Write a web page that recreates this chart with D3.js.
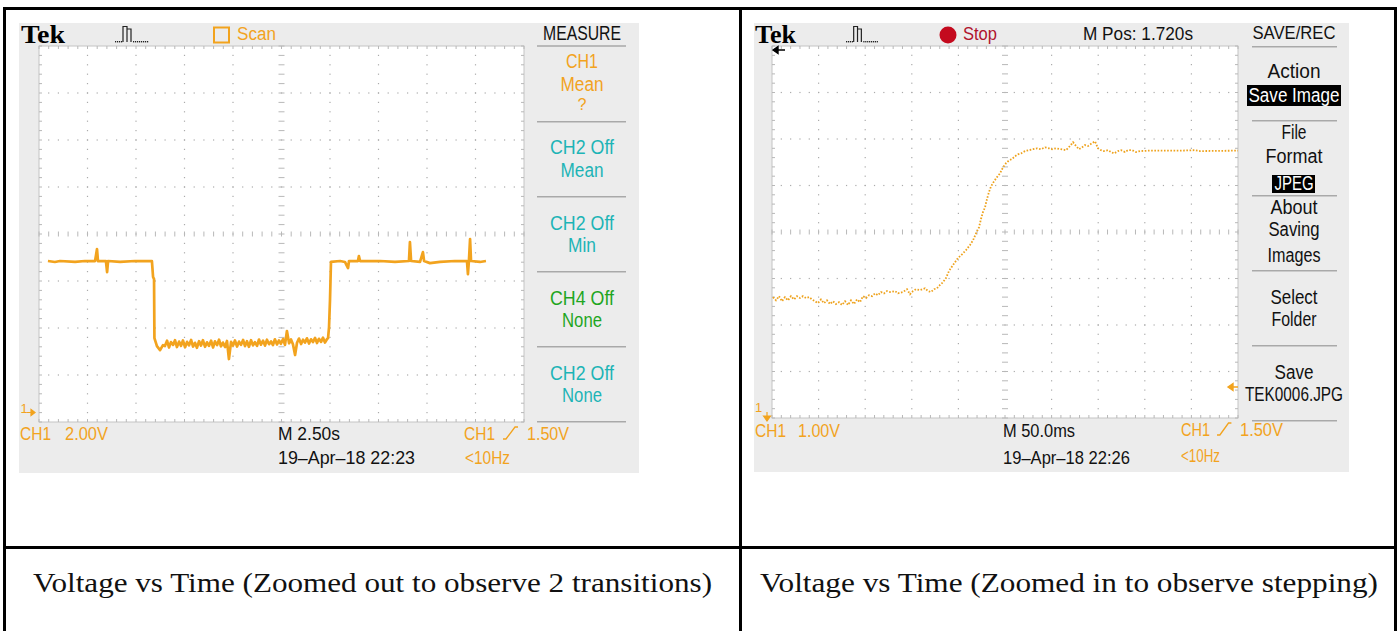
<!DOCTYPE html>
<html><head><meta charset="utf-8">
<script src="https://cdn.jsdelivr.net/npm/d3@7"></script>
<style>html,body{margin:0;padding:0;background:#fff;} svg{display:block;}</style>
</head><body>
<svg id="chart" width="1399" height="631"></svg>
<script>
// ================= DATA =================
// Left capture: CH1, 2.00 V/div, 2.50 s/div  (time in s from left of screen, volts)
const leftTime = [0.46,0.82,1.08,1.86,2.37,2.89,2.99,3.04,3.45,3.51,3.56,4.18,4.95,5.82,5.88,5.93,5.95,6.08,6.24,6.39,
  6.49,6.60,6.70,6.80,6.91,7.01,7.11,7.22,7.32,7.42,7.53,7.63,7.73,7.84,7.94,8.04,8.14,8.25,8.35,8.45,
  8.56,8.66,8.76,8.87,8.97,9.07,9.18,9.28,9.38,9.48,9.59,9.69,9.79,9.90,10.00,10.10,10.21,10.31,10.41,10.52,
  10.62,10.72,10.82,10.93,11.03,11.13,11.24,11.34,11.44,11.55,11.65,11.75,11.86,11.96,12.06,12.16,12.27,12.37,12.47,12.58,
  12.68,12.78,12.89,12.99,13.09,13.20,13.30,13.40,13.51,13.61,13.71,13.81,13.92,14.02,14.12,14.23,14.33,14.43,14.54,14.64,
  14.74,14.85,14.90,14.95,15.00,15.05,
  15.52,15.77,15.93,15.98,16.44,16.49,16.55,17.58,18.35,19.07,19.12,19.18,19.64,19.79,19.85,20.15,20.67,21.44,22.06,22.11,
  22.16,22.22,22.27,22.73,23.04];
const leftVolts = [6.47,6.43,6.47,6.43,6.47,6.47,6.98,6.47,6.47,6.00,6.47,6.43,6.47,6.47,5.79,5.70,3.19,2.85,2.68,2.89,
  2.85,3.08,2.79,3.02,2.90,3.10,2.81,3.04,2.86,3.09,2.80,3.03,2.88,3.11,2.83,2.99,2.78,3.06,2.87,3.10,
  2.82,3.01,2.86,3.08,2.79,3.05,2.89,3.12,2.84,3.00,2.81,3.07,2.30,3.03,2.87,3.09,2.83,3.04,2.90,3.11,
  2.85,3.06,2.82,3.10,2.88,3.02,2.86,3.13,2.91,3.08,2.87,3.12,2.93,3.05,2.89,3.14,2.92,3.09,2.95,3.15,
  2.90,3.49,2.97,3.13,2.93,2.47,2.99,3.17,2.94,3.12,3.00,3.18,2.96,3.14,3.02,3.20,2.98,3.16,3.03,3.21,
  3.00,3.15,3.19,3.66,4.81,6.43,
  6.47,6.43,6.17,6.47,6.47,6.68,6.47,6.47,6.43,6.47,7.28,6.47,6.43,6.85,6.47,6.38,6.43,6.47,6.47,5.91,
  6.47,7.40,6.47,6.43,6.47];

// Right capture: CH1, 1.00 V/div, 50.0 ms/div (time in ms from left of screen, volts)
const rightTime = [1.07,4.29,7.51,10.73,13.95,17.17,20.39,23.61,26.82,30.04,33.26,36.48,39.70,42.92,46.14,49.36,52.58,55.79,59.01,62.23,
  65.45,68.67,71.89,75.11,78.33,81.55,84.76,87.98,91.20,94.42,97.64,100.86,104.08,107.30,110.52,113.73,116.95,120.17,123.39,126.61,
  131.97,135.19,140.56,144.85,148.07,151.29,154.51,158.80,164.16,167.38,170.60,173.82,177.04,180.26,183.48,186.70,189.91,193.13,196.35,199.57,
  203.86,208.15,212.45,215.67,218.88,222.10,224.25,226.39,228.54,230.69,232.83,234.98,238.20,241.42,244.64,247.85,251.07,254.29,257.51,260.73,
  263.95,267.17,271.46,275.75,280.04,284.33,288.63,292.92,297.21,300.43,304.72,
  315.45,319.74,322.96,326.18,329.40,332.62,335.84,339.06,343.35,346.57,349.79,353.00,356.22,360.52,363.73,366.95,371.24,374.46,378.76,381.97,
  386.27,390.56,394.85,405.58,437.77,453.86,459.23,500];
const rightVolts = [3.40,3.33,3.42,3.31,3.40,3.33,3.42,3.35,3.42,3.38,3.42,3.38,3.40,3.35,3.31,3.27,3.35,3.27,3.33,3.25,
  3.31,3.25,3.29,3.23,3.31,3.23,3.33,3.25,3.35,3.29,3.42,3.38,3.44,3.42,3.48,3.44,3.51,3.48,3.53,3.51,
  3.53,3.48,3.51,3.57,3.46,3.53,3.57,3.55,3.59,3.53,3.51,3.57,3.59,3.66,3.72,3.81,3.96,4.06,4.15,4.24,
  4.32,4.41,4.52,4.62,4.77,4.90,5.08,5.23,5.33,5.51,5.66,5.78,5.89,5.98,6.06,6.19,6.28,6.34,6.37,6.43,
  6.47,6.49,6.54,6.56,6.58,6.60,6.58,6.62,6.60,6.58,6.60,
  6.56,6.65,6.73,6.65,6.58,6.62,6.67,6.65,6.71,6.75,6.60,6.56,6.54,6.56,6.52,6.49,6.54,6.56,6.52,6.56,
  6.56,6.52,6.54,6.55,6.55,6.56,6.54,6.55];

// Text content
const leftHeader = ["Tek", "Scan", "MEASURE"];
const leftMenu = [["CH1","Mean","?"],["CH2 Off","Mean"],["CH2 Off","Min"],["CH4 Off","None"],["CH2 Off","None"]];
const leftStatus = ["CH1", "2.00V", "M 2.50s", "19\u2013Apr\u201318 22:23", "CH1", "1.50V", "<10Hz"];
const rightHeader = ["Tek", "Stop", "M Pos: 1.720s", "SAVE/REC"];
const rightMenu = [["Action","Save Image"],["File","Format","JPEG"],["About","Saving","Images"],["Select","Folder"],["Save","TEK0006.JPG"]];
const rightStatus = ["CH1", "1.00V", "M 50.0ms", "19\u2013Apr\u201318 22:26", "CH1", "1.50V", "<10Hz"];
const captions = ["Voltage vs Time (Zoomed out to observe 2 transitions)", "Voltage vs Time (Zoomed in to observe stepping)"];

// ================= STYLE / LAYOUT =================
const SF = "Liberation Sans, Arial, sans-serif";
const SERIF = "Liberation Serif, Times New Roman, serif";
const ORANGE = "#f2a31e", TEAL = "#1db4b6", GREEN = "#1fa61f", BLACK = "#111", GREY = "#ececec";
// measured on-screen text widths (px)
const W = {
  "Scan": 39, "MEASURE": 78, "CH1m": 32, "Mean": 43, "?": 9, "CH2 Off": 64, "CH4 Off": 64, "Min": 28, "None": 40,
  "Stop": 34, "M Pos: 1.720s": 110, "SAVE/REC": 83, "Action": 53, "Save Image": 91, "File": 25, "Format": 57,
  "JPEG": 39, "About": 47, "Saving": 51, "Images": 53, "Select": 47, "Folder": 45, "Save": 39, "TEK0006.JPG": 98
};

const svg = d3.select("#chart");

function label(g, o) {
  const sx = o.sx || 1;
  const t = g.append("text")
    .attr("transform", `translate(${o.x},${o.y}) scale(${sx},1)`)
    .style("font-family", o.family || SF)
    .style("font-size", (o.size || 19.5) + "px")
    .style("font-weight", o.weight || "normal")
    .attr("fill", o.color || BLACK)
    .attr("text-anchor", o.anchor || "start")
    .text(o.text);
  if (o.len) t.attr("textLength", o.len).attr("lengthAdjust", "spacingAndGlyphs");
  return t;
}

function drawGrid(g, x0, x1, y0, y1) {
  const dx = d3.scaleLinear().domain([0, 10]).range([x0, x1]);
  const dy = d3.scaleLinear().domain([0, 8]).range([y0, y1]);
  const mx = d3.range(0, 51).map(k => k / 5);
  const my = d3.range(0, 41).map(k => k / 5);
  g.append("rect").attr("x", x0).attr("y", y0).attr("width", x1 - x0).attr("height", y1 - y0)
    .attr("fill", "#fff").attr("stroke", "#c4c4c4").attr("stroke-width", 1);
  const dots = [];
  for (let i = 1; i < 10; i++) if (i !== 5) my.forEach(m => { if (m > 0 && m < 8) dots.push([dx(i), dy(m)]); });
  for (let j = 1; j < 8; j++) if (j !== 4) mx.forEach(m => { if (m > 0 && m < 10) dots.push([dx(m), dy(j)]); });
  g.append("g").selectAll("rect").data(dots).join("rect")
    .attr("x", d => d[0] - 0.6).attr("y", d => d[1] - 0.6).attr("width", 1.2).attr("height", 1.2).attr("fill", "#ababab");
  const ticks = [];
  my.forEach(m => { ticks.push([dx(5) - 3, dy(m), dx(5) + 3, dy(m)]); ticks.push([x0, dy(m), x0 + 3, dy(m)]); ticks.push([x1 - 3, dy(m), x1, dy(m)]); });
  mx.forEach(m => { ticks.push([dx(m), dy(4) - 2.5, dx(m), dy(4) + 2.5]); ticks.push([dx(m), y0, dx(m), y0 + 3]); ticks.push([dx(m), y1 - 3, dx(m), y1]); });
  g.append("g").selectAll("line").data(ticks).join("line")
    .attr("x1", d => d[0]).attr("y1", d => d[1]).attr("x2", d => d[2]).attr("y2", d => d[3])
    .attr("stroke", "#b8b8b8").attr("stroke-width", 1);
}

function triggerIcon(g, x, s) {
  const p = d3.path();
  p.moveTo(x + 8 * s, 42); p.lineTo(x + 8 * s, 26.5); p.lineTo(x + 12 * s, 26.5); p.lineTo(x + 12 * s, 42);
  p.moveTo(x + 12 * s, 29); p.lineTo(x + 16 * s, 29); p.lineTo(x + 16 * s, 42);
  g.append("path").attr("d", p.toString()).attr("fill", "none").attr("stroke", "#222").attr("stroke-width", 1.2);
  const dd = [0, 2, 4, 6].map(k => x + k * s).concat([18, 20, 22, 24, 26, 28, 30, 32].map(k => x + k * s));
  g.append("g").selectAll("rect").data(dd).join("rect")
    .attr("x", d => d).attr("y", 41).attr("width", 1.2).attr("height", 1.4).attr("fill", "#222");
}

function slope(g, x, y, s) {
  g.append("path").attr("d", `M${x},${y} h${3 * s} l${9 * s},-12 h${3 * s}`)
    .attr("fill", "none").attr("stroke", ORANGE).attr("stroke-width", 1.3);
}

// ================= TABLE FRAME =================
const frame = svg.append("g");
[[3, 7, 1394, 3], [3, 7, 3, 624], [739, 7, 3, 624], [1394, 7, 3, 624], [3, 546, 1394, 3]].forEach(r =>
  frame.append("rect").attr("x", r[0]).attr("y", r[1]).attr("width", r[2]).attr("height", r[3]).attr("fill", "#000"));

// ================= LEFT SCOPE =================
{
  const g = svg.append("g");
  g.append("rect").attr("x", 19).attr("y", 23).attr("width", 620).attr("height", 450).attr("fill", GREY);
  const X0 = 39, X1 = 524, Y0 = 46, Y1 = 422;
  drawGrid(g, X0, X1, Y0, Y1);
  const vpd = 2, gnd = 0.19;
  const x = d3.scaleLinear().domain([0, 25]).range([X0, X1]);
  const y = d3.scaleLinear().domain([-gnd * vpd, (8 - gnd) * vpd]).range([Y1, Y0]);
  const pts = leftTime.map((t, i) => [t, leftVolts[i]]);
  g.append("path").attr("d", d3.line().x(d => x(d[0])).y(d => y(d[1]))(pts))
    .attr("fill", "none").attr("stroke", ORANGE).attr("stroke-width", 2.7).attr("stroke-linejoin", "round");

  // header
  label(g, { x: 21, y: 42.5, text: leftHeader[0], size: 26, weight: "bold", family: SERIF, color: "#000", len: 44 });
  triggerIcon(g, 115, 1);
  g.append("rect").attr("x", 214).attr("y", 27.5).attr("width", 15).attr("height", 15).attr("fill", "none").attr("stroke", ORANGE).attr("stroke-width", 2);
  label(g, { x: 237, y: 40, text: leftHeader[1], color: ORANGE, size: 18, len: W["Scan"] });
  label(g, { x: 582, y: 39.5, text: leftHeader[2], anchor: "middle", len: W["MEASURE"] });

  // menu
  [46, 121.7, 196.7, 271.7, 346.7, 421.7].forEach(v => g.append("line").attr("x1", 537).attr("x2", 626).attr("y1", v).attr("y2", v).attr("stroke", "#a9a9a9").attr("stroke-width", 1.5));
  const base = [[68, 91, 110], [154, 177], [230, 252], [304.5, 326.5], [379.5, 401.5]];
  const cols = [ORANGE, TEAL, TEAL, GREEN, TEAL];
  leftMenu.forEach((item, i) => item.forEach((s, k) =>
    label(g, { x: 582, y: base[i][k], text: s, anchor: "middle", color: cols[i], size: (s === "?" ? 17 : 19.5),
      len: (s === "CH1" ? W["CH1m"] : W[s]) })));

  // status
  label(g, { x: 20.5, y: 413, text: "1", color: ORANGE, size: 13 });
  g.append("path").attr("d", "M27,412.5 H31 M31,409.5 L35,412.5 L31,415.5 Z").attr("stroke", ORANGE).attr("fill", ORANGE).attr("stroke-width", 1.2);
  const st = 18.5;
  label(g, { x: 20, y: 440, text: leftStatus[0], color: ORANGE, size: st, len: 31 });
  label(g, { x: 65, y: 440, text: leftStatus[1], color: ORANGE, size: st, len: 43 });
  label(g, { x: 278, y: 440, text: leftStatus[2], size: st, len: 62 });
  label(g, { x: 278, y: 464, text: leftStatus[3], size: st, len: 137 });
  label(g, { x: 464, y: 440, text: leftStatus[4], color: ORANGE, size: st, len: 31 });
  slope(g, 503, 439, 1);
  label(g, { x: 527, y: 440, text: leftStatus[5], color: ORANGE, size: st, len: 42 });
  label(g, { x: 465, y: 464, text: leftStatus[6], color: ORANGE, size: st, len: 45 });
}

// ================= RIGHT SCOPE =================
{
  const g = svg.append("g");
  const sx = 0.96;
  g.append("rect").attr("x", 754).attr("y", 23).attr("width", 595).attr("height", 449).attr("fill", GREY);
  const X0 = 772, X1 = 1238, Y0 = 46, Y1 = 418;
  drawGrid(g, X0, X1, Y0, Y1);
  const vpd = 1, gnd = -0.8;
  const x = d3.scaleLinear().domain([0, 500]).range([X0, X1]);
  const y = d3.scaleLinear().domain([-gnd * vpd, (8 - gnd) * vpd]).range([Y1, Y0]);
  const pts = rightTime.map((t, i) => [t, rightVolts[i]]);
  g.append("path").attr("d", d3.line().x(d => x(d[0])).y(d => y(d[1]))(pts))
    .attr("fill", "none").attr("stroke", "#eea21c").attr("stroke-width", 1.8).attr("stroke-dasharray", "1.6 1.6");

  // position marker arrows
  g.append("path").attr("d", "M773,50 L778,46.5 L778,53.5 Z M777,50 H785").attr("fill", "#000").attr("stroke", "#000").attr("stroke-width", 1.4);
  g.append("path").attr("d", "M1228,387 L1233,383.5 L1233,390.5 Z M1232,387 H1238").attr("fill", ORANGE).attr("stroke", ORANGE).attr("stroke-width", 1.4);

  // header
  label(g, { x: 755, y: 42.5, text: rightHeader[0], size: 26, weight: "bold", family: SERIF, color: "#000", len: 41 });
  triggerIcon(g, 846, sx);
  g.append("circle").attr("cx", 948).attr("cy", 35).attr("r", 8.5).attr("fill", "#c40a1e");
  label(g, { x: 963, y: 40, text: rightHeader[1], color: "#b0122c", size: 18.5, len: W["Stop"] });
  label(g, { x: 1083, y: 40, text: rightHeader[2], size: 18.5, len: W["M Pos: 1.720s"] });
  label(g, { x: 1294, y: 39, text: rightHeader[3], anchor: "middle", size: 19, len: W["SAVE/REC"] });

  // menu
  [46.7, 120.7, 195.7, 270.7, 345.7, 420.7].forEach(v => g.append("line").attr("x1", 1252).attr("x2", 1337).attr("y1", v).attr("y2", v).attr("stroke", "#a9a9a9").attr("stroke-width", 1.5));
  g.append("rect").attr("x", 1247).attr("y", 85).attr("width", 94).attr("height", 21).attr("fill", "#000");
  g.append("rect").attr("x", 1272).attr("y", 175).attr("width", 43).attr("height", 18).attr("fill", "#000");
  const base = [[78, 101.5], [139, 163, 190], [214, 236, 262], [303.5, 325.5], [378.5, 400.5]];
  const inv = { "Save Image": 1, "JPEG": 1 };
  rightMenu.forEach((item, i) => item.forEach((s, k) =>
    label(g, { x: 1294, y: base[i][k], text: s, anchor: "middle", color: inv[s] ? "#fff" : BLACK, size: 19.5, len: W[s] })));

  // status
  label(g, { x: 755, y: 412, text: "1", color: ORANGE, size: 13 });
  g.append("path").attr("d", "M767,412 V417 M763.5,416 L767,421 L770.5,416 Z").attr("stroke", ORANGE).attr("fill", ORANGE).attr("stroke-width", 1.2);
  const st = 18.5;
  label(g, { x: 755, y: 437, text: rightStatus[0], color: ORANGE, size: st, len: 31 });
  label(g, { x: 798, y: 437, text: rightStatus[1], color: ORANGE, size: st, len: 42 });
  label(g, { x: 1003, y: 437, text: rightStatus[2], size: st, len: 72 });
  label(g, { x: 1003, y: 464, text: rightStatus[3], size: st, len: 127 });
  label(g, { x: 1181, y: 436, text: rightStatus[4], color: ORANGE, size: st, len: 29 });
  slope(g, 1217, 435, sx);
  label(g, { x: 1240, y: 436, text: rightStatus[5], color: ORANGE, size: st, len: 43 });
  label(g, { x: 1181, y: 462, text: rightStatus[6], color: ORANGE, size: st, len: 39 });
}

// ================= CAPTIONS =================
label(svg, { x: 372.5, y: 592, text: captions[0], anchor: "middle", family: SERIF, size: 27, color: "#111", len: 679 });
label(svg, { x: 1069, y: 592, text: captions[1], anchor: "middle", family: SERIF, size: 27, color: "#111", len: 618 });
</script>
</body></html>
